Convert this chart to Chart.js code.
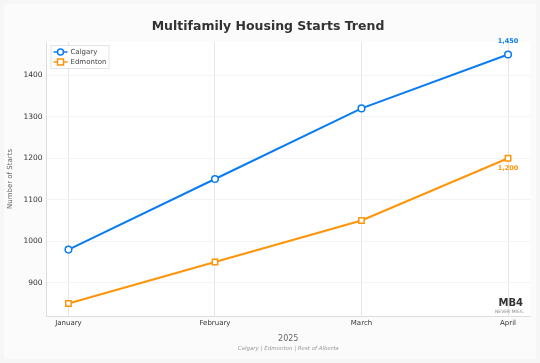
<!DOCTYPE html>
<html>
<head>
<meta charset="utf-8">
<script src="https://cdn.jsdelivr.net/npm/chart.js@4/dist/chart.umd.min.js"></script>
<style>
  html, body { margin: 0; padding: 0; background: #f6f6f6; }
  .card { position: absolute; left: 4px; top: 4px; width: 532px; height: 355px; background: #fbfbfb; }
  canvas { display: block; }
</style>
</head>
<body>
<div class="card"><canvas id="chart" width="532" height="355"></canvas></div>
<script>
const months = ['January', 'February', 'March', 'April']
const calgary = [980, 1150, 1320, 1450]
const edmonton = [850, 950, 1050, 1200]
const yTicks = [900, 1000, 1100, 1200, 1300, 1400]

const blue = '#0a7cf2'
const orange = '#ff9408'
const font = 'DejaVu Sans'

const toPoints = arr => arr.map((v, i) => ({ x: i, y: v }))

// white plot area + in-chart legend + end labels + watermark
const extras = {
  id: 'extras',
  beforeDraw(chart) {
    const { ctx, chartArea: a } = chart
    ctx.save()
    ctx.fillStyle = '#ffffff'
    ctx.fillRect(a.left, a.top, a.right - a.left, a.bottom - a.top)
    ctx.restore()
  },
  afterDatasetsDraw(chart) {
    const { ctx, chartArea: a } = chart
    ctx.save()

    // legend
    const lx = a.left + 4, ly = a.top + 3
    ctx.fillStyle = 'rgba(255,255,255,0.9)'
    ctx.strokeStyle = '#e4e4e4'
    ctx.lineWidth = 1
    ctx.fillRect(lx, ly, 58, 23)
    ctx.strokeRect(lx + 0.5, ly + 0.5, 58, 23)
    chart.data.datasets.forEach((ds, i) => {
      const y = ly + 7 + i * 10
      ctx.strokeStyle = ds.borderColor
      ctx.lineWidth = 1.5
      ctx.beginPath()
      ctx.moveTo(lx + 3, y); ctx.lineTo(lx + 17, y); ctx.stroke()
      ctx.fillStyle = '#fff'
      ctx.beginPath()
      if (ds.pointStyle === 'rect') ctx.rect(lx + 7, y - 3, 6, 6)
      else ctx.arc(lx + 10, y, 3, 0, Math.PI * 2)
      ctx.fill(); ctx.stroke()
      ctx.fillStyle = '#444'
      ctx.font = `7px "${font}"`
      ctx.textBaseline = 'middle'
      ctx.textAlign = 'left'
      ctx.fillText(ds.label, lx + 20, y + 0.5)
    })

    // end labels
    ctx.font = `bold 6.5px "${font}"`
    ctx.textAlign = 'center'
    const p1 = chart.getDatasetMeta(0).data[3]
    ctx.fillStyle = blue
    ctx.textBaseline = 'bottom'
    ctx.fillText(calgary[3].toLocaleString('en-US'), p1.x, p1.y - 10)
    const p2 = chart.getDatasetMeta(1).data[3]
    ctx.fillStyle = orange
    ctx.textBaseline = 'top'
    ctx.fillText(edmonton[3].toLocaleString('en-US'), p2.x, p2.y + 7)

    // watermark
    ctx.textAlign = 'right'
    ctx.textBaseline = 'alphabetic'
    ctx.fillStyle = '#333'
    ctx.font = `bold 10px "${font}"`
    ctx.fillText('MB4', a.right - 7, a.bottom - 10)
    ctx.fillStyle = '#888'
    ctx.font = `4.5px "${font}"`
    ctx.fillText('NEVER MISS.', a.right - 6, a.bottom - 3)

    // footer
    ctx.textAlign = 'center'
    ctx.fillStyle = '#9a9a9a'
    ctx.font = `italic 5.5px "${font}"`
    ctx.fillText('Calgary | Edmonton | Rest of Alberta', (a.left + a.right) / 2, chart.height - 9)
    ctx.restore()
  }
}

new Chart(document.getElementById('chart'), {
  type: 'line',
  data: {
    datasets: [
      {
        label: 'Calgary', data: toPoints(calgary),
        borderColor: blue, backgroundColor: '#ffffff', borderWidth: 2,
        pointStyle: 'circle', pointRadius: 3.3, pointBorderWidth: 1.5
      },
      {
        label: 'Edmonton', data: toPoints(edmonton),
        borderColor: orange, backgroundColor: '#ffffff', borderWidth: 2,
        pointStyle: 'rect', pointRadius: 3.8, pointBorderWidth: 1.5
      }
    ]
  },
  options: {
    responsive: false,
    animation: false,
    layout: { padding: { left: 2, right: 6, top: 0, bottom: 11 } },
    plugins: {
      legend: { display: false },
      tooltip: { enabled: false },
      title: {
        display: true, text: 'Multifamily Housing Starts Trend', color: '#333',
        font: { family: font, size: 12.5, weight: 'bold' }, padding: { top: 15, bottom: 8 }
      }
    },
    scales: {
      x: {
        type: 'linear', min: -0.15, max: 3.15,
        ticks: {
          stepSize: 1, includeBounds: false, color: '#333', padding: 3,
          font: { family: font, size: 7 },
          callback: v => months[v]
        },
        grid: { color: '#e6e6e6', drawTicks: false },
        border: { color: '#dddddd' },
        title: { display: true, text: '2025', color: '#666', font: { family: font, size: 8 }, padding: { top: 4 } }
      },
      y: {
        min: 820, max: 1480,
        afterBuildTicks: s => { s.ticks = yTicks.map(v => ({ value: v })) },
        ticks: { color: '#333', padding: 4, font: { family: font, size: 7.5 }, callback: v => String(v) },
        grid: { color: '#f3f3f3', drawTicks: false },
        border: { color: '#dddddd' },
        title: { display: true, text: 'Number of Starts', color: '#666', font: { family: font, size: 7 }, padding: { top: 0, bottom: 5 } }
      }
    }
  },
  plugins: [extras]
})
</script>
</body>
</html>
